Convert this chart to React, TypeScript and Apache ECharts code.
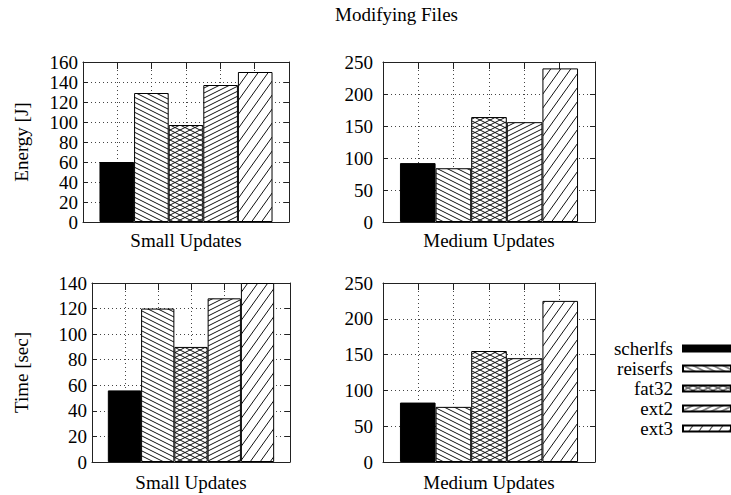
import React, { useEffect, useRef } from "react";
import * as echarts from "echarts";

// ---- data ----
const systems = ["scherlfs", "reiserfs", "fat32", "ext2", "ext3"];
const smallCategory = ["Small Updates"];
const mediumCategory = ["Medium Updates"];
const energySmall = [60, 129, 97, 137, 150];
const energyMedium = [92, 84, 164, 156, 240];
const timeSmall = [56, 120, 90, 128, 140];
const timeMedium = [83, 77, 155, 145, 225];
const energySmallAxis = { max: 160, interval: 20 };
const energyMediumAxis = { max: 250, interval: 50 };
const timeSmallAxis = { max: 140, interval: 20 };
const timeMediumAxis = { max: 250, interval: 50 };
// top (mirrored) x tics: one at each bar centre, plus the frame edges
const topTics = ["", "", "", "", "", "", ""];
const title = "Modifying Files";
const energyName = "Energy [J]";
const timeName = "Time [sec]";

const FONT = "'Liberation Serif', 'Times New Roman', serif";

function makePattern(kind: string): any {
  if (kind === "solid") return "#000";
  const c = document.createElement("canvas");
  let w = 10, h = 5;
  if (kind === "steep") { w = 10; h = 14; }
  c.width = w; c.height = h;
  const ctx = c.getContext("2d")!;
  ctx.fillStyle = "#fff";
  ctx.fillRect(0, 0, w, h);
  ctx.strokeStyle = "#111";
  ctx.lineWidth = 1;
  const seg = (x0: number, y0: number, x1: number, y1: number) => {
    for (const dx of [-w, 0, w]) for (const dy of [-h, 0, h]) {
      ctx.beginPath();
      ctx.moveTo(x0 + dx, y0 + dy);
      ctx.lineTo(x1 + dx, y1 + dy);
      ctx.stroke();
    }
  };
  if (kind === "back") seg(0, 0, w, h);
  else if (kind === "fwd" || kind === "steep") seg(0, h, w, 0);
  else if (kind === "cross") { seg(0, 0, w, h); seg(0, h, w, 0); }
  return { image: c, repeat: "repeat", imageWidth: w, imageHeight: h };
}

export default function App() {
  const ref = useRef<HTMLDivElement>(null);
  useEffect(() => {
    document.body.style.margin = "0";
    const chart = echarts.init(ref.current!, null, { renderer: "svg" });
    const fills = ["solid", "back", "cross", "fwd", "steep"].map(makePattern);

    const panels = [
      { rect: { left: 83, top: 62, width: 206, height: 160 }, cat: smallCategory, values: energySmall, axis: energySmallAxis, name: energyName, nameGap: 52, labelMargin: 5, catMargin: 9 },
      { rect: { left: 383, top: 62, width: 212, height: 160 }, cat: mediumCategory, values: energyMedium, axis: energyMediumAxis, name: "", nameGap: 0, labelMargin: 10, catMargin: 9 },
      { rect: { left: 92, top: 283, width: 198, height: 179 }, cat: smallCategory, values: timeSmall, axis: timeSmallAxis, name: timeName, nameGap: 61, labelMargin: 5, catMargin: 11 },
      { rect: { left: 383, top: 283, width: 212, height: 179 }, cat: mediumCategory, values: timeMedium, axis: timeMediumAxis, name: "", nameGap: 0, labelMargin: 10, catMargin: 11 },
    ];

    const frameColor = "#222";
    const gridLine = { show: true, interval: 0, lineStyle: { color: "#444", type: [1, 3], width: 1 } };
    const grid: any[] = [], xAxis: any[] = [], yAxis: any[] = [], series: any[] = [];
    panels.forEach((p, pi) => {
      grid.push({ ...p.rect, containLabel: false });
      xAxis.push({
        type: "category", gridIndex: pi, data: p.cat, position: "bottom",
        axisLine: { onZero: false, lineStyle: { color: frameColor, width: 1 } },
        axisTick: { show: false },
        axisLabel: { color: "#000", fontFamily: FONT, fontSize: 19, margin: p.catMargin },
        splitLine: { show: false },
      });
      xAxis.push({
        type: "category", gridIndex: pi, position: "top", data: topTics, boundaryGap: false,
        axisLine: { show: true, onZero: false, lineStyle: { color: frameColor, width: 1 } },
        axisTick: { show: true, inside: true, length: 7, interval: 0, lineStyle: { color: frameColor } },
        axisLabel: { show: false },
        splitLine: gridLine,
      });
      yAxis.push({
        type: "value", gridIndex: pi, position: "left", min: 0, max: p.axis.max, interval: p.axis.interval,
        name: p.name, nameLocation: "middle", nameGap: p.nameGap,
        nameTextStyle: { color: "#000", fontFamily: FONT, fontSize: 19 },
        axisLine: { show: true, onZero: false, lineStyle: { color: frameColor, width: 1 } },
        axisTick: { show: true, inside: true, length: 5, lineStyle: { color: frameColor } },
        axisLabel: { color: "#000", fontFamily: FONT, fontSize: 19, margin: p.labelMargin },
        splitLine: gridLine,
      });
      yAxis.push({
        type: "value", gridIndex: pi, position: "right", min: 0, max: p.axis.max, interval: p.axis.interval,
        axisLine: { show: true, onZero: false, lineStyle: { color: frameColor, width: 1 } },
        axisTick: { show: true, inside: true, length: 5, lineStyle: { color: frameColor } },
        axisLabel: { show: false },
        splitLine: { show: false },
      });
      systems.forEach((s, si) => {
        series.push({
          type: "bar", name: s, xAxisIndex: pi * 2, yAxisIndex: pi * 2,
          data: [p.values[si]],
          barGap: "0%", barCategoryGap: "16%",
          itemStyle: { color: fills[si], borderColor: "#000", borderWidth: 1 },
          emphasis: { disabled: true },
        });
      });
    });

    chart.setOption({
      animation: false,
      textStyle: { fontFamily: FONT },
      title: {
        text: title, left: 335, top: 5, padding: 0,
        textStyle: { color: "#000", fontFamily: FONT, fontSize: 19, fontWeight: "normal" },
      },
      legend: {
        data: systems, orient: "vertical", align: "right", icon: "rect",
        right: -1, top: 339, padding: 0,
        itemWidth: 48, itemHeight: 6, itemGap: 1,
        textStyle: { color: "#000", fontFamily: FONT, fontSize: 19, padding: [0, 5, 0, 0] },
      },
      grid, xAxis, yAxis, series,
    });
    return () => chart.dispose();
  }, []);
  return <div ref={ref} style={{ width: 731, height: 495, position: "absolute", left: 0, top: 0 }} />;
}
